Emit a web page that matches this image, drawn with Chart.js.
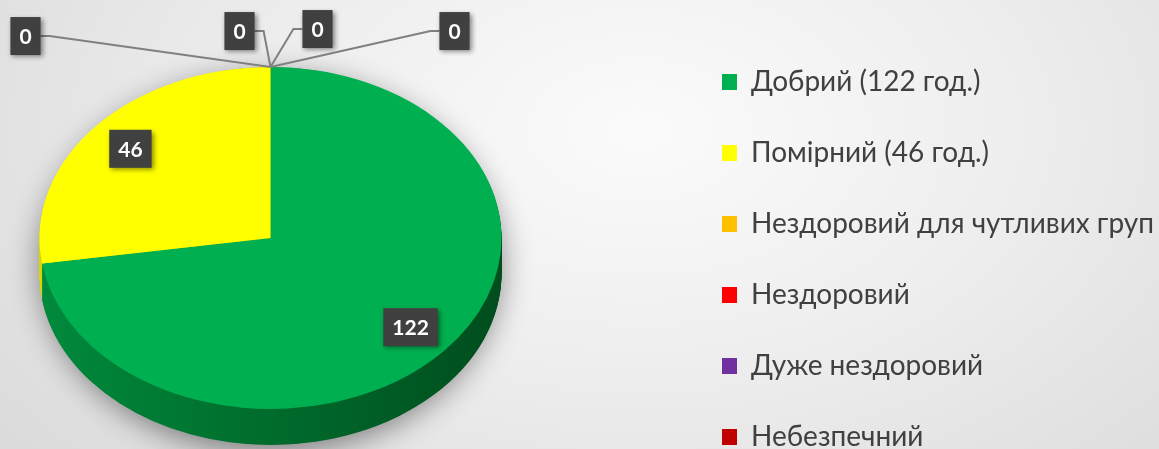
<!DOCTYPE html>
<html>
<head>
<meta charset="utf-8">
<script src="https://cdn.jsdelivr.net/npm/chart.js@4.4.0/dist/chart.umd.min.js"></script>
<style>
  html, body { margin: 0; padding: 0; }
  body {
    width: 1159px; height: 449px; overflow: hidden;
    background: radial-gradient(ellipse 820px 520px at 640px 130px, #fbfbfb 0%, #eeeeee 45%, #dadada 100%);
  }
  #wrap { position: relative; width: 1159px; height: 449px; }
</style>
</head>
<body>
<div id="wrap"><canvas id="aqiChart" width="1159" height="449"></canvas></div>
<script>
const categories = ['Добрий (122 год.)', 'Помірний (46 год.)', 'Нездоровий для чутливих груп', 'Нездоровий', 'Дуже нездоровий', 'Небезпечний'];
const hours = [122, 46, 0, 0, 0, 0];
const topColors = ['#00b050', '#ffff00', '#ffc000', '#ff0000', '#7030a0', '#c00000'];
const sideLight = ['#008a3c', '#d6d600', '#c89600', '#c00000', '#58267f', '#900000'];
const sideDark = ['#004d1d', '#8a8a00', '#7d5e00', '#780000', '#381850', '#5a0000'];
// label offsets for the empty slices, measured from their rim point
const zeroLabelOffsets = [[-245, -31], [-31, -36], [47, -38], [184, -36]];

const TILT = 0.74;    // vertical squash of the pie top
const DEPTH = 36;     // thickness of the side wall
const SHIFT_X = -69;  // pie sits left of its chart area
const LIFT = 1;
const LABEL_R = 0.8;

function tilt(ctx, arc) {
  ctx.translate(arc.x + SHIFT_X, arc.y + LIFT);
  ctx.scale(1, TILT);
  ctx.translate(-arc.x, -arc.y);
}

function project(arc, angle, r) {
  return { x: arc.x + SHIFT_X + Math.cos(angle) * r, y: arc.y + LIFT + Math.sin(angle) * r * TILT };
}

function drawTag(ctx, text, x, y) {
  ctx.font = 'bold 21px Lato';
  const w = ctx.measureText(text).width + 18;
  const h = 38;
  ctx.save();
  ctx.shadowColor = 'rgba(0,0,0,0.45)';
  ctx.shadowBlur = 5;
  ctx.shadowOffsetX = 2;
  ctx.shadowOffsetY = 2;
  ctx.fillStyle = '#404040';
  ctx.fillRect(x - w / 2, y - h / 2, w, h);
  ctx.restore();
  ctx.fillStyle = '#ffffff';
  ctx.textAlign = 'center';
  ctx.textBaseline = 'middle';
  ctx.fillText(text, x, y + 1);
  return w;
}

function drawLabels(chart) {
  const ctx = chart.ctx;
  const arcs = chart.getDatasetMeta(0).data;
  let z = 0;
  ctx.save();
  arcs.forEach((arc, i) => {
    const value = hours[i];
    if (value > 0) {
      const mid = (arc.startAngle + arc.endAngle) / 2;
      const p = project(arc, mid, arc.outerRadius * LABEL_R);
      drawTag(ctx, String(value), p.x, p.y);
    } else {
      const rim = project(arc, arc.startAngle, arc.outerRadius);
      const off = zeroLabelOffsets[z++] || [0, -40];
      const cx = rim.x + off[0], cy = rim.y + off[1];
      ctx.font = 'bold 21px Lato';
      const w = ctx.measureText(String(value)).width + 18;
      const side = off[0] < 0 ? 1 : -1;
      const edge = cx + side * w / 2;
      ctx.strokeStyle = '#808080';
      ctx.lineWidth = 2;
      ctx.beginPath();
      ctx.moveTo(edge, cy);
      ctx.lineTo(edge + side * 9, cy);
      ctx.lineTo(rim.x, rim.y);
      ctx.stroke();
      drawTag(ctx, String(value), cx, cy);
    }
  });
  ctx.restore();
}

const pie3d = {
  id: 'pie3d',
  beforeDatasetsDraw(chart) {
    const ctx = chart.ctx;
    const arcs = chart.getDatasetMeta(0).data;
    const c = arcs[0];
    const r = c.outerRadius;
    // soft shadow under the disc
    ctx.save();
    ctx.shadowColor = 'rgba(0,0,0,0.45)';
    ctx.shadowBlur = 30;
    ctx.shadowOffsetY = 8;
    ctx.fillStyle = '#7a7a7a';
    ctx.beginPath();
    ctx.ellipse(c.x + SHIFT_X, c.y + LIFT + DEPTH / 2, r, r * TILT + DEPTH / 2, 0, 0, Math.PI * 2);
    ctx.fill();
    ctx.restore();
    // side wall: stacked copies of each slice
    for (let d = DEPTH; d > 0; d--) {
      arcs.forEach((arc, i) => {
        if (arc.endAngle - arc.startAngle <= 0) return;
        ctx.save();
        ctx.translate(0, d);
        tilt(ctx, arc);
        const g = ctx.createLinearGradient(arc.x - r, 0, arc.x + r, 0);
        g.addColorStop(0, sideLight[i]);
        g.addColorStop(1, sideDark[i]);
        ctx.fillStyle = g;
        ctx.beginPath();
        ctx.moveTo(arc.x, arc.y);
        ctx.arc(arc.x, arc.y, arc.outerRadius, arc.startAngle, arc.endAngle);
        ctx.closePath();
        ctx.fill();
        ctx.restore();
      });
    }
    ctx.save();
    tilt(ctx, c);
  },
  afterDatasetsDraw(chart) {
    chart.ctx.restore();
    drawLabels(chart);
  }
};

new Chart(document.getElementById('aqiChart'), {
  type: 'pie',
  data: {
    labels: categories,
    datasets: [{
      data: hours,
      backgroundColor: topColors,
      borderWidth: 0,
      radius: 231,
      clip: false
    }]
  },
  options: {
    responsive: false,
    animation: false,
    events: [],
    layout: { padding: { left: 0, top: 25, right: 0, bottom: -60 } },
    plugins: {
      tooltip: { enabled: false },
      legend: {
        position: 'right',
        align: 'start',
        maxWidth: 480,
        labels: {
          boxWidth: 15,
          boxHeight: 16,
          padding: 43,
          color: '#404040',
          font: { family: 'Lato', size: 28 }
        }
      }
    }
  },
  plugins: [pie3d]
});
</script>
</body>
</html>
